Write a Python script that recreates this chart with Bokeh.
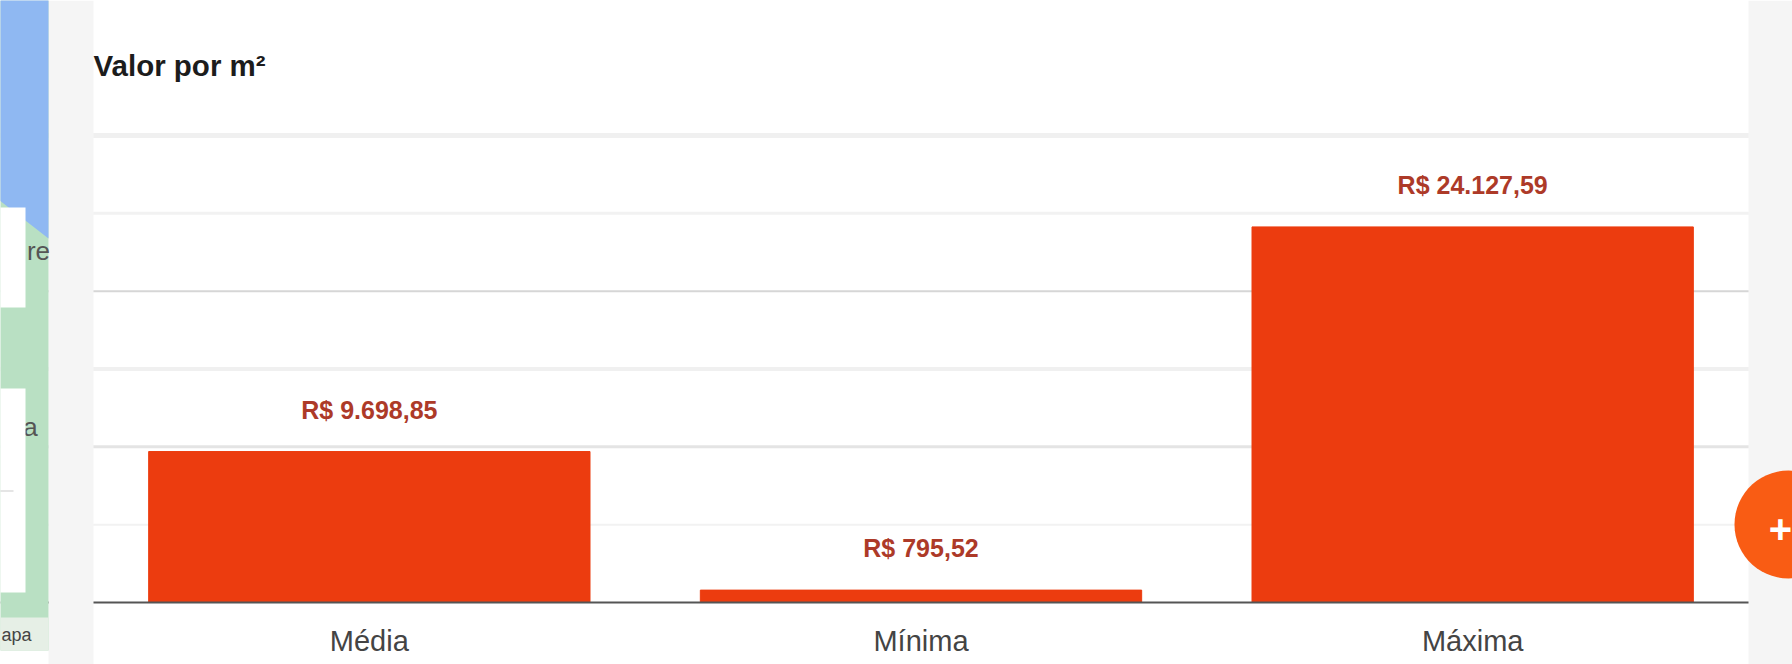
from bokeh.plotting import figure
from bokeh.embed import file_html
from bokeh.resources import INLINE
from bokeh.models import Span, BoxAnnotation, Label, PolyAnnotation, ColumnDataSource, Range1d, FixedTicker
from bokeh.core.properties import value
import math

categories = ["Média", "Mínima", "Máxima"]
values = [9698.85, 795.52, 24127.59]
value_labels = ["R$ 9.698,85", "R$ 795,52", "R$ 24.127,59"]
grid_values = [5000, 10000, 15000, 20000, 25000, 30000]
grid_colors = ["#f2f2f2", "#e4e4e4", "#f0f0f0", "#d6d6d6", "#f2f2f2", "#f0f0f0"]
grid_widths = [2, 3, 4, 2, 3, 5]

WIDTH, HEIGHT = 1792, 664
PANEL_L, PANEL_R, BASE_Y, TOP_Y = 93, 1748, 602, 135
px_x = (PANEL_R - PANEL_L) / len(categories)
px_y = (BASE_Y - TOP_Y) / 30000
positions = [i + 0.5 for i in range(len(categories))]

src = ColumnDataSource(dict(x=positions, val=values, lab=value_labels))

p = figure(x_range=Range1d(-PANEL_L / px_x, 3 + (WIDTH - PANEL_R) / px_x),
           y_range=Range1d(-(HEIGHT - BASE_Y) / px_y, BASE_Y / px_y),
           width=WIDTH, height=HEIGHT, min_border=0, toolbar_location=None, output_backend="svg")

p.outline_line_color = None
p.xgrid.visible = False
p.ygrid.visible = False
p.yaxis.visible = False
ax = p.xaxis[0]
ax.fixed_location = 0
ax.ticker = FixedTicker(ticks=positions)
ax.major_label_overrides = dict(zip(positions, categories))
ax.axis_line_color = "#555555"
ax.axis_line_width = 2
ax.major_tick_line_color = None
ax.minor_tick_line_color = None
ax.major_label_text_font = "Liberation Sans"
ax.major_label_text_font_size = "29px"
ax.major_label_text_color = "#444444"
ax.major_label_standoff = 16

for v, c, w in zip(grid_values, grid_colors, grid_widths):
    p.add_layout(Span(location=v, dimension="width", line_color=c, line_width=w, level="underlay"))

p.vbar(x="x", top="val", width=0.80, bottom=0, source=src, color="#ec3c0f")
p.text(x="x", y="val", text="lab", source=src, text_align="center", text_baseline="middle",
       y_offset=-42, text_color="#ad3a28", text_font=value("Liberation Sans"),
       text_font_style="bold", text_font_size="25px")


def box(l, r, t, b, color):
    p.add_layout(BoxAnnotation(left=l, right=r, top=t, bottom=b, left_units="canvas", right_units="canvas",
                               top_units="canvas", bottom_units="canvas", fill_color=color, fill_alpha=1,
                               line_color=None, level="overlay"))


def poly(xs, ys, color):
    p.add_layout(PolyAnnotation(xs=xs, ys=ys, xs_units="canvas", ys_units="canvas", fill_color=color,
                                fill_alpha=1, line_color=None, level="overlay"))


def note(x, y, text, color="#555555", size="24px", bold=False, align="center"):
    p.add_layout(Label(x=x, y=y, x_units="canvas", y_units="canvas", text=text, text_color=color,
                       text_font="Liberation Sans", text_font_size=size,
                       text_font_style="bold" if bold else "normal", text_baseline="middle",
                       text_align=align, level="overlay"))


# surrounding page: map sliver, grey gutters, floating button
box(48, PANEL_L, 0, HEIGHT, "#f5f5f5")
box(PANEL_R, WIDTH, 0, HEIGHT, "#f5f5f5")
box(-2, 48, 0, 650, "#b9e0c3")
poly([-2, 48, 48, -2], [-2, -2, 238, 199], "#8fb8f2")
box(-2, 48, 617, 650, "#e6efe6")
note(38, 250, "re", size="26px")
note(30, 426, "a", size="26px")
note(16, 634, "apa", color="#444444", size="18px")
box(-2, 25, 207, 307, "#ffffff")
box(-2, 25, 388, 592, "#ffffff")
box(-2, 13, 490, 491, "#cccccc")

note(PANEL_L, 65, "Valor por m²", color="#1c1c1c", size="29.5px", bold=True, align="left")

cx, cy, r = 1788, 524, 54
angles = [i * math.pi / 30 for i in range(60)]
poly([cx + r * math.cos(a) for a in angles], [cy + r * math.sin(a) for a in angles], "#f95c14")
note(1780, 528, "+", color="#ffffff", size="40px", bold=True)

open("out.html", "w").write(file_html(p, INLINE))
